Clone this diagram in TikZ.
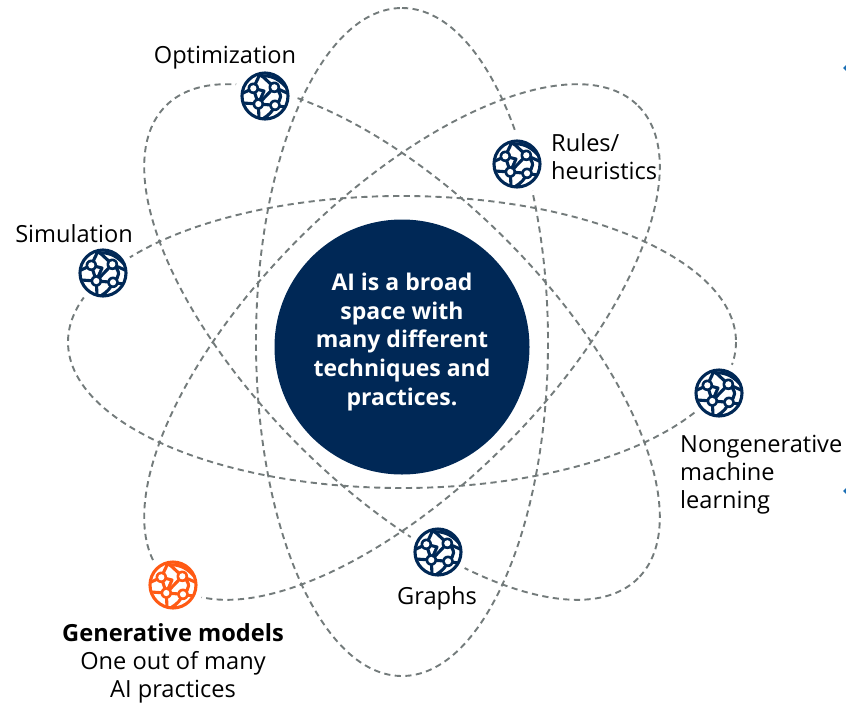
\documentclass[tikz,border=0pt]{standalone}
\usepackage{fontspec}
\setmainfont{Open Sans}
\definecolor{navy}{HTML}{002856}
\definecolor{flame}{HTML}{FF5A14}
\definecolor{orbit}{HTML}{737B7B}
\definecolor{speck}{HTML}{1B6FB5}
\tikzset{
  x=1pt,y=-1pt,
  orbitline/.style={draw=orbit,line width=1.9pt,dash pattern=on 6.2pt off 4.4pt},
  label/.style={font=\fontsize{23.6}{28}\selectfont,text=black,align=center,inner sep=0pt},
  hub/.style={circle,fill=navy,minimum size=255pt,inner sep=0pt},
  hubtext/.style={text=white,align=center,inner sep=0pt,font=\fontsize{23}{28.7}\selectfont\bfseries},
  globeicon/.style={circle,fill=white,minimum size=62pt,inner sep=0pt},
  pics/globe/.style={code={
    \begin{scope}[draw=#1,line width=3.1pt,line cap=round,line join=round]
      \draw (0,0) circle (23);
      \draw (-11.7,-7.7) -- (-5,-22);
      \draw (-11.7,-7.7) -- (-22,-3);
      \draw (-11.7,-7.7) -- (-6.7,8);
      \draw (-4,-21) -- (9.3,-8.7);
      \draw (-4,-20) .. controls (6,-21) and (14,-17) .. (21,-9);
      \draw (-11.7,-7.7) -- (-1,-5) -- (-6.7,8);
      \draw (9.3,-8.7) -- (-6.7,8);
      \draw (9.3,-8.7) -- (22,-3);
      \draw (9.3,-8.7) .. controls (18,-2) and (17,4) .. (10,9.3);
      \draw (-6.7,8) -- (-22,7);
      \draw (-6.7,8) -- (-6,22);
      \draw (-6.7,8) -- (10,9.3);
      \draw (10,9.3) -- (20,11);
      \draw (10,9.3) .. controls (8,15) and (4,19) .. (-1,22);
      \fill[#1] (-11.7,-7.7) circle (5.8) (9.3,-8.7) circle (5.8) (-6.7,8) circle (5.8) (10,9.3) circle (5.8);
      \fill[white] (-11.7,-7.7) circle (3.1) (9.3,-8.7) circle (3.1) (-6.7,8) circle (3.1) (10,9.3) circle (3.1);
    \end{scope}
  }}
}
\begin{document}
\begin{tikzpicture}
\useasboundingbox (0,0) rectangle (846,702);
\coordinate (c) at (402,342);
\foreach \ang in {0,45,-45,90}{
  \draw[orbitline,rotate around={\ang:(c)}] (c) ellipse [x radius=334,y radius=146];
}
\node[hub] (center) at (402,347) {};
\node[hubtext] (centertext) at (402,342) {AI is a broad\\space with\\many different\\techniques and\\practices.};
\node[globeicon] (opt) at (265,96) {};
\node[globeicon] (rules) at (517,164) {};
\node[globeicon] (sim) at (103,273) {};
\node[globeicon] (ml) at (719,393) {};
\node[globeicon] (graphs) at (438,552) {};
\node[globeicon] (gen) at (173,585) {};
\path (opt) pic {globe=navy} (rules) pic {globe=navy} (sim) pic {globe=navy} (ml) pic {globe=navy} (graphs) pic {globe=navy} (gen) pic {globe=flame};
\node[label] (optl) at (225,58) {Optimization};
\node[label,align=left,anchor=west] (rulesl) at (551,157) {Rules/\\heuristics};
\node[label] (siml) at (74,234) {Simulation};
\node[label,align=left,anchor=north west] (mll) at (680,435) {Nongenerative\\machine\\learning};
\node[label] (graphsl) at (437,598) {Graphs};
\node[label] (genl) at (173,663) {\textbf{Generative models}\\One out of many\\AI practices};
\fill[speck] (843,68) -- (846,65) -- (846,71) -- cycle;
\fill[speck] (843,491) -- (846,488) -- (846,494) -- cycle;
\end{tikzpicture}
\end{document}
